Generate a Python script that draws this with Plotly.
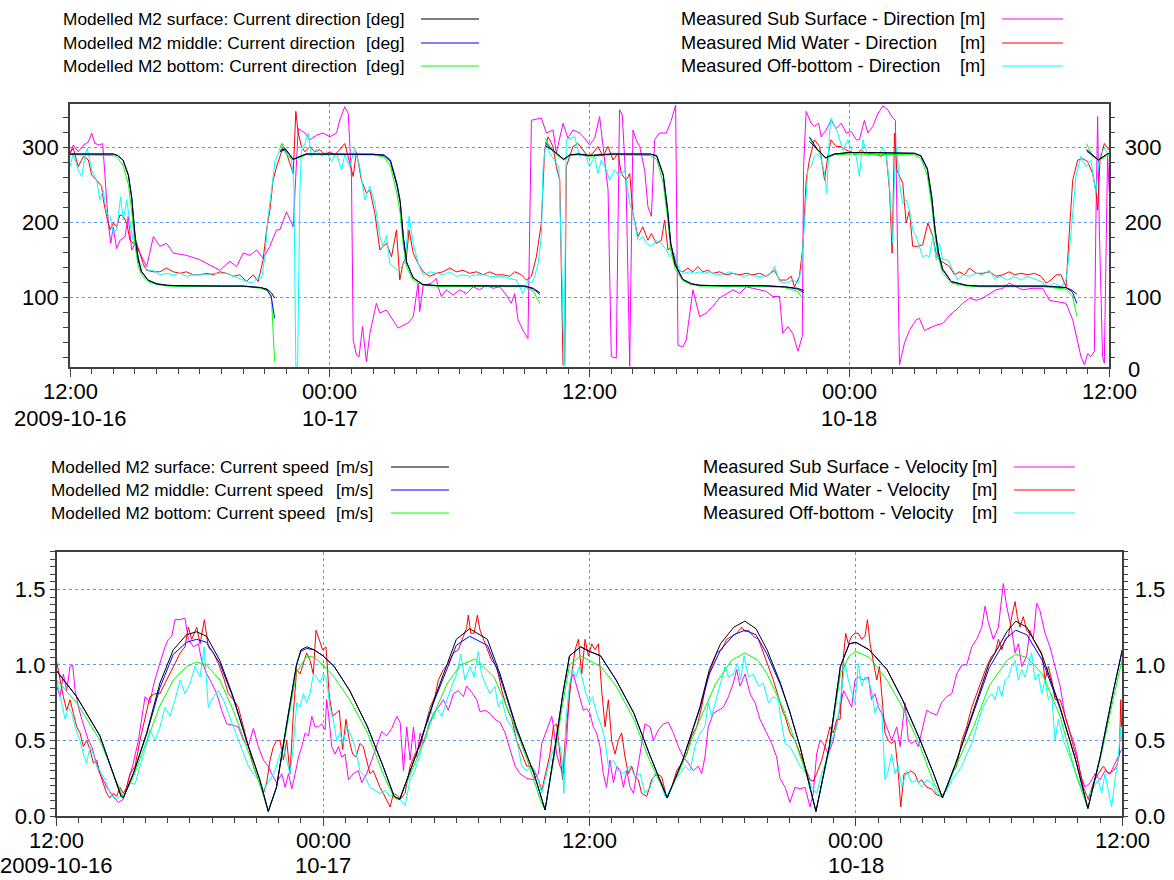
import pandas as pd
import plotly.graph_objects as go

T0 = pd.Timestamp("2009-10-16 12:00")

# ---------------- DATA (hours after 2009-10-16 12:00, value) ----------------
mod_dir_surface = [(0,291),(1,291),(2,291),(2.2,289),(2.45,283),(2.7,262),(2.85,232),(3.0,182),(3.15,150),(3.3,134),(3.6,123),(4.0,118),(4.5,116),(5,115.5),(6,115),(7,115),(8,115),(8.8,113),(9.1,111),(9.3,106),(9.45,99),(9.6,None),(9.7,296),(9.95,298),(10.3,284),(10.6,287),(10.9,291),(11.5,291),(12,291),(13,291),(14,291),(14.5,289),(14.8,281),(15.1,249),(15.25,226),(15.4,178),(15.55,146),(15.85,126),(16.3,117),(17,115.5),(18,115.5),(19,115.5),(20,115.5),(21,115),(21.4,112),(21.7,106),(21.85,None),(21.95,302),(22.3,296),(22.8,284),(23.1,290),(23.5,291),(24,289),(25,291),(26,291),(26.8,291),(27.1,288),(27.4,262),(27.6,215),(27.75,170),(27.95,143),(28.3,124),(28.7,118),(29.1,116),(30,115.5),(31,115.5),(32,115.5),(33,114),(33.6,112),(33.9,109),(34.05,None),(34.15,308),(34.5,298),(34.9,286),(35.3,291),(36,293),(37,293),(38,293),(39,292),(39.3,288),(39.6,270),(39.8,232),(39.95,190),(40.1,160),(40.3,137),(40.7,121),(41.4,116),(42,115),(43,115),(44,115),(45,115),(46,113),(46.3,109),(46.5,104),(46.7,None),(46.95,297),(47.2,290),(47.5,283),(47.9,291),(48,292)]
mod_dir_middle = [(0,291),(1,291),(2,291),(2.2,289),(2.45,283),(2.7,263),(2.85,234),(3.0,185),(3.15,152),(3.3,135),(3.6,123),(4.0,118),(4.5,116),(5,115.5),(6,115),(7,115),(8,115),(8.8,113),(9.1,110),(9.3,100),(9.45,72),(9.6,None),(9.7,294),(9.95,297),(10.3,284),(10.6,287),(10.9,291),(11.5,291),(12,291),(13,291),(14,291),(14.5,290),(14.8,283),(15.1,252),(15.25,229),(15.4,180),(15.55,147),(15.85,126),(16.3,117),(17,115.5),(18,115.5),(19,115.5),(20,115.5),(21,115),(21.4,111),(21.7,104),(21.85,None),(21.95,306),(22.3,296),(22.8,284),(23.1,290),(23.5,291),(24,289),(25,291),(26,291),(26.8,291),(27.1,289),(27.4,264),(27.6,218),(27.75,172),(27.95,144),(28.3,124),(28.7,118),(29.1,116),(30,115.5),(31,115.5),(32,115.5),(33,114),(33.6,111),(33.9,106),(34.05,None),(34.15,314),(34.5,298),(34.9,286),(35.3,291),(36,293),(37,293),(38,293),(39,292),(39.3,289),(39.6,272),(39.8,235),(39.95,192),(40.1,162),(40.3,138),(40.7,121),(41.4,116),(42,115),(43,115),(44,115),(45,115),(46,113),(46.3,107),(46.5,92),(46.7,None),(46.95,295),(47.2,290),(47.5,283),(47.9,291),(48,292)]
mod_dir_bottom = [(0,290),(1,290),(2,289),(2.2,286),(2.45,276),(2.7,250),(2.85,215),(3.0,170),(3.15,142),(3.3,130),(3.6,121),(4.0,117),(4.5,115),(5,114.5),(6,114.5),(7,114.5),(8,114.5),(8.8,112),(9.1,109),(9.3,103),(9.45,14),(9.6,None),(9.7,300),(9.8,305),(9.95,292),(10.3,283),(10.6,286),(10.9,290),(11.5,290),(12,290),(13,290),(14,290),(14.5,287),(14.8,275),(15.1,238),(15.25,212),(15.4,168),(15.55,140),(15.85,123),(16.3,116),(17,114.5),(18,114.5),(19,114.5),(20,114.5),(21,114),(21.4,108),(21.7,92),(21.85,None),(21.95,312),(22.3,294),(22.8,283),(23.1,289),(23.5,290),(24,288),(25,290),(26,290),(26.8,289),(27.1,284),(27.4,252),(27.6,205),(27.75,162),(27.95,138),(28.3,122),(28.7,117),(29.1,115),(30,114.5),(31,114.5),(32,114.5),(33,113),(33.6,108),(33.9,96),(34.05,None),(34.15,312),(34.5,296),(34.9,285),(35.3,290),(36,291),(37,291),(38,291),(39,290),(39.3,285),(39.6,262),(39.8,222),(39.95,182),(40.1,154),(40.3,133),(40.7,119),(41.4,115),(42,114),(43,114),(44,114),(45,114),(46,111),(46.3,102),(46.5,75),(46.7,None),(46.95,305),(47.2,289),(47.5,282),(47.9,290),(48,291)]

sub_dir = [(0,292),(0.15,303),(0.38,294),(0.62,303),(0.85,307),(1.0,319),(1.15,305),(1.38,303),(1.51,305),(1.62,256),(1.77,199),(1.88,172),(2.0,194),(2.15,165),(2.31,176),(2.54,181),(2.69,208),(2.85,163),(3.0,172),(3.23,159),(3.54,141),(3.85,181),(4.15,168),(4.46,172),(4.77,159),(5.38,156),(6.0,150),(6.46,143),(6.92,136),(7.38,148),(7.69,141),(8.0,159),(8.31,156),(8.62,163),(8.92,152),(9.23,168),(9.54,190),(9.69,190),(10.0,214),(10.31,194),(10.54,325),(10.85,319),(11.08,310),(11.38,316),(11.69,319),(12.0,314),(12.31,319),(12.46,336),(12.69,354),(12.85,345),(13.0,261),(13.08,43),(13.23,23),(13.35,21),(13.51,61),(13.69,14),(13.85,52),(14.15,92),(14.31,79),(14.62,83),(14.92,70),(15.15,59),(15.62,66),(15.85,74),(16.08,119),(16.15,81),(16.31,115),(16.69,119),(16.92,125),(17.0,114),(17.15,101),(17.38,110),(17.69,103),(18.0,110),(18.31,105),(18.62,114),(18.92,110),(19.23,116),(19.54,112),(19.85,114),(20.15,103),(20.38,92),(20.54,105),(20.69,70),(20.92,56),(21.15,45),(21.31,336),(21.77,339),(22.0,319),(22.31,323),(22.46,292),(22.77,332),(23.0,312),(23.23,323),(23.54,319),(23.77,312),(24.0,303),(24.23,312),(24.46,341),(24.65,296),(24.85,243),(25.0,21),(25.23,19),(25.38,350),(25.51,343),(25.69,243),(25.85,8),(26.0,323),(26.15,310),(26.31,301),(26.54,270),(26.69,221),(26.85,208),(27.0,310),(27.23,319),(27.54,319),(27.77,336),(27.97,356),(28.08,36),(28.31,34),(28.46,43),(28.77,110),(29.08,74),(29.38,79),(29.69,88),(30.0,99),(30.31,105),(30.62,110),(30.92,105),(31.23,114),(31.54,112),(31.85,110),(32.15,108),(32.46,101),(32.77,101),(32.92,52),(33.15,61),(33.38,52),(33.62,28),(33.82,48),(33.88,274),(34.0,348),(34.23,332),(34.38,328),(34.58,332),(34.69,314),(34.92,323),(35.15,336),(35.38,325),(35.62,332),(35.85,319),(36.08,321),(36.31,310),(36.46,310),(36.69,336),(36.85,319),(37.08,328),(37.31,345),(37.54,355),(37.77,350),(38.0,339),(38.12,336),(38.31,10),(38.54,39),(38.77,56),(39.08,70),(39.23,72),(39.46,56),(39.69,59),(40.0,63),(40.31,65),(40.62,76),(40.92,83),(41.23,92),(41.54,99),(41.85,96),(42.15,99),(42.46,105),(42.77,110),(43.08,112),(43.38,119),(43.69,114),(44.0,110),(44.46,112),(44.92,112),(45.23,96),(45.69,94),(46.0,92),(46.31,70),(46.54,39),(46.69,21),(46.85,10),(47.0,25),(47.15,21),(47.31,28),(47.38,199),(47.46,341),(47.54,190),(47.69,21),(47.77,12),(47.92,288),(48.0,240)]
mid_dir = [(0,292),(0.15,299),(0.38,274),(0.62,288),(0.85,283),(1.0,263),(1.23,256),(1.46,248),(1.54,230),(1.69,208),(1.85,190),(2.0,199),(2.15,194),(2.31,210),(2.46,208),(2.62,199),(2.77,176),(2.92,172),(3.08,172),(3.23,159),(3.38,145),(3.54,136),(3.85,134),(4.15,134),(4.46,139),(4.77,134),(5.08,132),(5.38,134),(5.69,130),(6.0,130),(6.31,132),(6.62,130),(6.92,134),(7.23,132),(7.54,128),(7.85,130),(8.15,121),(8.46,130),(8.69,121),(8.92,150),(9.08,190),(9.23,216),(9.38,256),(9.54,274),(9.69,288),(9.85,301),(10.0,292),(10.15,279),(10.31,265),(10.43,348),(10.54,319),(10.69,301),(10.85,294),(11.08,301),(11.31,294),(11.54,297),(11.77,290),(12.0,294),(12.23,290),(12.46,297),(12.69,305),(12.92,279),(13.08,261),(13.23,294),(13.46,256),(13.69,239),(13.85,243),(14.08,212),(14.31,163),(14.46,168),(14.62,172),(14.85,154),(15.08,190),(15.23,123),(15.38,145),(15.54,154),(15.66,190),(15.85,159),(16.08,145),(16.31,134),(16.62,128),(16.92,132),(17.23,134),(17.54,139),(17.85,134),(18.15,136),(18.46,132),(18.77,134),(19.08,130),(19.38,134),(19.69,130),(20.0,130),(20.31,128),(20.54,134),(20.85,130),(21.08,123),(21.31,128),(21.54,154),(21.77,199),(21.92,296),(22.08,314),(22.31,301),(22.46,274),(22.62,256),(22.77,10),(22.85,12),(22.92,274),(23.08,288),(23.23,301),(23.46,305),(23.69,296),(23.92,288),(24.15,292),(24.38,301),(24.62,288),(24.85,301),(25.08,283),(25.31,292),(25.46,265),(25.69,256),(25.85,265),(26.0,212),(26.23,181),(26.46,194),(26.69,176),(26.85,185),(27.08,172),(27.31,176),(27.46,203),(27.62,163),(27.77,168),(27.92,154),(28.08,136),(28.31,134),(28.54,139),(28.77,134),(29.0,141),(29.23,134),(29.46,136),(29.69,132),(30.0,134),(30.31,130),(30.62,132),(30.92,130),(31.23,132),(31.54,130),(31.85,132),(32.15,128),(32.54,136),(32.77,123),(33.08,123),(33.31,128),(33.46,114),(33.69,128),(33.85,168),(34.0,256),(34.15,283),(34.38,310),(34.62,301),(34.85,256),(35.0,288),(35.15,310),(35.38,301),(35.62,301),(35.85,296),(36.08,294),(36.31,290),(36.54,297),(36.77,290),(37.0,292),(37.23,290),(37.46,288),(37.69,292),(37.85,243),(37.97,159),(38.08,319),(38.18,270),(38.31,261),(38.46,252),(38.62,199),(38.77,216),(38.92,168),(39.15,168),(39.38,170),(39.62,199),(39.85,181),(40.0,159),(40.15,150),(40.38,145),(40.62,141),(40.85,130),(41.08,134),(41.31,130),(41.54,139),(41.85,132),(42.15,132),(42.46,134),(42.77,128),(43.08,130),(43.38,134),(43.62,130),(43.92,132),(44.23,130),(44.54,132),(44.85,128),(45.08,119),(45.31,123),(45.54,130),(45.77,130),(46.0,114),(46.15,185),(46.31,256),(46.54,283),(46.77,285),(47.0,281),(47.23,265),(47.38,243),(47.46,216),(47.57,283),(47.77,305),(48.0,296)]
off_dir = [(0,274),(0.15,292),(0.38,270),(0.54,261),(0.69,288),(0.8,299),(1.0,270),(1.23,256),(1.38,230),(1.54,243),(1.69,212),(1.85,208),(2.0,185),(2.15,190),(2.34,234),(2.46,203),(2.62,230),(2.77,199),(2.92,176),(3.08,163),(3.23,145),(3.38,141),(3.62,136),(3.85,136),(4.15,130),(4.46,132),(4.77,130),(5.08,132),(5.38,128),(5.69,130),(6.0,130),(6.31,130),(6.62,132),(6.92,132),(7.23,132),(7.54,128),(7.85,125),(8.15,121),(8.46,119),(8.69,128),(8.85,125),(9.0,154),(9.15,208),(9.31,243),(9.46,281),(9.62,292),(9.77,305),(9.92,299),(10.08,288),(10.23,283),(10.34,252),(10.43,8),(10.51,8),(10.62,243),(10.69,296),(10.85,305),(11.0,319),(11.15,288),(11.38,297),(11.62,288),(11.85,294),(12.08,281),(12.31,292),(12.54,270),(12.69,290),(12.92,274),(13.15,299),(13.38,274),(13.62,230),(13.85,248),(14.08,225),(14.31,181),(14.46,168),(14.62,183),(14.77,145),(14.92,141),(15.15,136),(15.46,145),(15.66,208),(15.85,172),(16.08,145),(16.31,130),(16.62,134),(16.92,132),(17.23,130),(17.54,134),(17.85,128),(18.15,130),(18.46,128),(18.77,130),(19.08,130),(19.38,128),(19.69,128),(20.0,128),(20.31,125),(20.62,123),(20.92,105),(21.15,123),(21.31,119),(21.46,128),(21.62,145),(21.77,181),(21.85,274),(22.0,310),(22.15,292),(22.38,283),(22.58,274),(22.74,110),(22.82,8),(22.92,310),(23.08,312),(23.31,314),(23.54,288),(23.77,292),(24.0,274),(24.23,288),(24.38,265),(24.54,283),(24.77,270),(24.92,256),(25.15,270),(25.38,261),(25.62,270),(25.85,225),(26.0,212),(26.23,176),(26.46,181),(26.62,172),(26.85,168),(27.08,176),(27.31,172),(27.54,163),(27.69,154),(27.92,159),(28.15,136),(28.38,132),(28.62,134),(28.85,132),(29.08,134),(29.31,132),(29.54,134),(29.85,130),(30.15,130),(30.46,134),(30.77,130),(31.08,128),(31.38,130),(31.69,128),(32.0,128),(32.31,130),(32.54,141),(32.77,121),(33.08,119),(33.38,123),(33.62,119),(33.77,136),(33.92,199),(34.08,270),(34.23,274),(34.38,288),(34.62,292),(34.85,265),(34.95,239),(35.08,319),(35.15,339),(35.31,328),(35.46,319),(35.69,296),(35.92,310),(36.15,292),(36.31,288),(36.46,261),(36.62,310),(36.85,288),(37.08,292),(37.31,288),(37.54,299),(37.69,292),(37.85,248),(38.0,172),(38.08,265),(38.18,301),(38.31,252),(38.46,225),(38.62,230),(38.77,216),(38.92,190),(39.08,181),(39.23,168),(39.38,154),(39.54,156),(39.69,154),(39.85,181),(40.0,150),(40.15,172),(40.31,150),(40.54,150),(40.77,136),(41.0,123),(41.23,130),(41.54,128),(41.85,132),(42.15,130),(42.46,136),(42.69,125),(43.0,128),(43.31,123),(43.62,128),(43.92,123),(44.23,128),(44.54,125),(44.85,121),(45.15,114),(45.46,119),(45.77,114),(46.0,123),(46.15,159),(46.31,208),(46.46,261),(46.69,288),(46.92,274),(47.15,283),(47.38,239),(47.54,288),(47.77,299),(48.0,288)]

mod_spd_surface = [(0,0.96),(0.9,0.79),(1.95,0.53),(2.55,0.28),(2.9,0.13),(3.0,0.12),(3.45,0.28),(4.05,0.55),(4.65,0.88),(5.25,1.10),(5.85,1.20),(6.3,1.22),(6.75,1.19),(7.35,1.03),(7.95,0.79),(8.55,0.50),(9.15,0.24),(9.53,0.03),(9.9,0.19),(10.36,0.61),(10.8,1.0),(11.0,1.10),(11.26,1.12),(11.6,1.10),(12.0,1.06),(12.5,0.99),(13.2,0.83),(14.0,0.59),(14.7,0.33),(15.2,0.13),(15.45,0.11),(16.2,0.41),(17.0,0.77),(17.6,1.01),(18.0,1.17),(18.6,1.24),(19.4,1.17),(19.97,0.94),(20.7,0.59),(21.5,0.28),(22.0,0.04),(22.4,0.41),(22.8,0.81),(23.1,1.06),(23.6,1.12),(24.0,1.09),(24.5,1.06),(25.2,0.90),(26.0,0.68),(26.7,0.41),(27.5,0.12),(28.2,0.37),(28.97,0.72),(29.4,0.97),(29.9,1.14),(30.5,1.25),(31.0,1.29),(31.5,1.24),(32.0,1.10),(32.6,0.88),(33.0,0.70),(33.5,0.45),(33.9,0.22),(34.2,0.03),(34.8,0.46),(35.3,0.99),(35.7,1.14),(36.0,1.15),(36.6,1.10),(37.4,0.97),(38.1,0.77),(38.9,0.50),(39.5,0.28),(39.9,0.12),(40.5,0.35),(41.3,0.70),(42.0,1.01),(42.8,1.22),(43.2,1.29),(43.7,1.25),(44.4,1.06),(45.2,0.72),(45.9,0.37),(46.45,0.05),(47.0,0.39),(47.6,0.83),(48.0,1.10)]
mod_spd_middle = [(0,0.96),(0.9,0.79),(1.95,0.53),(2.55,0.28),(2.9,0.13),(3.0,0.12),(3.45,0.28),(4.05,0.54),(4.65,0.85),(5.25,1.07),(5.85,1.15),(6.3,1.17),(6.75,1.15),(7.35,1.01),(7.95,0.78),(8.55,0.50),(9.15,0.24),(9.53,0.03),(9.9,0.19),(10.36,0.61),(10.8,1.0),(11.0,1.09),(11.26,1.11),(11.6,1.10),(12.0,1.06),(12.5,0.99),(13.2,0.83),(14.0,0.59),(14.7,0.33),(15.2,0.13),(15.45,0.11),(16.2,0.41),(17.0,0.76),(17.6,0.98),(18.0,1.13),(18.6,1.19),(19.4,1.13),(19.97,0.92),(20.7,0.58),(21.5,0.28),(22.0,0.04),(22.4,0.41),(22.8,0.81),(23.1,1.06),(23.6,1.12),(24.0,1.09),(24.5,1.06),(25.2,0.90),(26.0,0.68),(26.7,0.41),(27.5,0.12),(28.2,0.37),(28.97,0.71),(29.4,0.94),(29.9,1.10),(30.5,1.20),(31.0,1.23),(31.5,1.20),(32.0,1.07),(32.6,0.87),(33.0,0.70),(33.5,0.45),(33.9,0.22),(34.2,0.03),(34.8,0.46),(35.3,0.99),(35.7,1.14),(36.0,1.15),(36.6,1.10),(37.4,0.97),(38.1,0.77),(38.9,0.50),(39.5,0.28),(39.9,0.12),(40.5,0.35),(41.3,0.69),(42.0,0.98),(42.8,1.18),(43.2,1.23),(43.7,1.20),(44.4,1.03),(45.2,0.71),(45.9,0.37),(46.45,0.05),(47.0,0.39),(47.6,0.83),(48.0,1.10)]
mod_spd_bottom = [(0,0.90),(0.9,0.75),(1.95,0.50),(2.55,0.28),(3.0,0.12),(3.45,0.26),(4.05,0.50),(4.65,0.73),(5.25,0.90),(5.85,0.99),(6.3,1.02),(6.75,1.00),(7.35,0.90),(7.95,0.70),(8.55,0.46),(9.15,0.21),(9.53,0.03),(9.9,0.19),(10.36,0.58),(10.8,0.95),(11.26,1.06),(11.6,1.05),(12.0,1.00),(12.5,0.92),(13.2,0.77),(14.0,0.55),(14.7,0.28),(15.2,0.12),(15.45,0.11),(16.2,0.37),(17.0,0.68),(17.6,0.88),(18.2,1.00),(18.85,1.04),(19.7,0.92),(20.4,0.68),(21.2,0.37),(21.8,0.10),(22.0,0.04),(22.4,0.38),(22.8,0.75),(23.1,1.00),(23.6,1.06),(24.0,1.03),(24.5,0.99),(25.2,0.86),(26.0,0.64),(26.7,0.37),(27.5,0.12),(28.2,0.35),(28.97,0.64),(29.7,0.88),(30.4,1.03),(31.0,1.08),(31.6,1.03),(32.0,0.94),(32.7,0.72),(33.3,0.48),(33.8,0.26),(34.2,0.03),(34.8,0.44),(35.3,0.94),(35.7,1.06),(36.0,1.09),(36.6,1.05),(37.4,0.90),(38.1,0.72),(38.9,0.46),(39.5,0.22),(39.9,0.12),(40.5,0.33),(41.3,0.59),(42.0,0.86),(42.8,1.03),(43.2,1.07),(43.7,1.05),(44.4,0.94),(45.2,0.66),(45.9,0.28),(46.45,0.05),(47.0,0.37),(47.6,0.78),(48.0,1.04)]

sub_spd = [(0,0.86),(0.15,0.79),(0.3,0.94),(0.45,0.83),(0.6,0.99),(0.72,1.0),(0.83,0.83),(0.98,0.72),(1.13,0.64),(1.28,0.57),(1.43,0.50),(1.58,0.46),(1.73,0.37),(1.88,0.30),(2.03,0.26),(2.25,0.19),(2.55,0.13),(2.78,0.09),(3.0,0.11),(3.23,0.24),(3.45,0.35),(3.68,0.50),(3.83,0.64),(3.98,0.79),(4.2,0.75),(4.35,0.86),(4.5,0.94),(4.65,1.01),(4.88,1.12),(5.03,1.17),(5.18,1.19),(5.33,1.30),(5.56,1.30),(5.78,1.31),(5.93,1.17),(6.16,1.12),(6.38,1.14),(6.53,1.03),(6.76,0.94),(6.98,0.88),(7.21,0.81),(7.43,0.70),(7.66,0.61),(7.96,0.60),(8.18,0.59),(8.41,0.50),(8.63,0.46),(8.86,0.58),(9.08,0.46),(9.31,0.37),(9.53,0.33),(9.68,0.28),(9.91,0.22),(10.14,0.28),(10.29,0.19),(10.44,0.28),(10.59,0.18),(10.74,0.28),(10.89,0.39),(11.04,0.46),(11.19,0.55),(11.34,0.53),(11.49,0.66),(11.64,0.59),(11.79,0.59),(11.94,0.61),(12.09,0.57),(12.16,0.77),(12.24,0.68),(12.39,0.46),(12.54,0.41),(12.69,0.46),(12.84,0.39),(12.99,0.41),(13.14,0.24),(13.36,0.28),(13.59,0.30),(13.74,0.22),(13.96,0.28),(14.19,0.37),(14.41,0.46),(14.64,0.56),(14.86,0.53),(15.09,0.58),(15.32,0.66),(15.47,0.62),(15.62,0.30),(15.77,0.59),(15.92,0.37),(16.07,0.59),(16.22,0.39),(16.37,0.55),(16.52,0.48),(16.74,0.59),(16.97,0.68),(17.19,0.72),(17.42,0.77),(17.64,0.70),(17.87,0.81),(18.09,0.83),(18.32,0.79),(18.47,0.86),(18.69,0.82),(18.92,0.77),(19.07,0.69),(19.29,0.70),(19.52,0.68),(19.74,0.64),(19.97,0.62),(20.2,0.55),(20.42,0.44),(20.65,0.33),(20.87,0.28),(21.17,0.25),(21.47,0.24),(21.7,0.28),(21.85,0.48),(22.07,0.57),(22.3,0.66),(22.4,0.57),(22.52,0.41),(22.67,0.33),(22.82,0.28),(22.97,0.50),(23.12,0.88),(23.27,0.94),(23.42,0.86),(23.57,0.77),(23.72,0.70),(23.87,0.71),(24.02,0.68),(24.17,0.59),(24.32,0.55),(24.47,0.46),(24.62,0.28),(24.77,0.19),(24.92,0.37),(25.08,0.22),(25.23,0.33),(25.38,0.30),(25.53,0.19),(25.68,0.30),(25.83,0.19),(25.98,0.15),(26.13,0.28),(26.28,0.41),(26.5,0.61),(26.73,0.59),(26.88,0.50),(27.1,0.57),(27.33,0.61),(27.55,0.62),(27.78,0.55),(28.0,0.46),(28.23,0.39),(28.45,0.35),(28.68,0.30),(28.9,0.33),(29.05,0.28),(29.2,0.39),(29.35,0.59),(29.58,0.68),(29.8,0.70),(30.03,0.72),(30.26,0.79),(30.48,0.88),(30.63,0.97),(30.78,0.86),(31.01,0.94),(31.23,0.81),(31.46,0.75),(31.68,0.64),(31.98,0.55),(32.21,0.48),(32.43,0.39),(32.58,0.25),(32.81,0.19),(33.03,0.09),(33.26,0.19),(33.48,0.18),(33.71,0.19),(33.93,0.06),(34.08,0.15),(34.23,0.41),(34.38,0.50),(34.53,0.48),(34.76,0.41),(34.98,0.50),(35.14,0.61),(35.29,0.72),(35.44,0.83),(35.59,0.79),(35.81,0.72),(35.96,0.90),(36.11,0.92),(36.34,0.90),(36.56,0.92),(36.71,0.77),(36.86,0.81),(37.01,0.72),(37.16,0.68),(37.39,0.59),(37.61,0.50),(37.84,0.59),(37.99,0.46),(38.21,0.75),(38.36,0.50),(38.51,0.48),(38.66,0.50),(38.81,0.46),(38.96,0.55),(39.19,0.70),(39.41,0.68),(39.64,0.67),(39.86,0.75),(40.09,0.79),(40.32,0.81),(40.54,0.94),(40.77,1.0),(40.99,1.0),(41.22,1.12),(41.44,1.17),(41.67,1.25),(41.82,1.39),(41.97,1.28),(42.19,1.17),(42.42,1.25),(42.64,1.54),(42.79,1.39),(43.02,1.23),(43.17,1.08),(43.32,1.14),(43.47,0.99),(43.69,1.06),(43.84,1.23),(43.99,1.17),(44.14,1.41),(44.29,1.36),(44.52,1.21),(44.74,1.12),(44.97,0.99),(45.2,0.86),(45.42,0.66),(45.65,0.55),(45.8,0.50),(45.95,0.41),(46.1,0.28),(46.32,0.19),(46.55,0.22),(46.77,0.28),(47.0,0.24),(47.22,0.30),(47.45,0.28),(47.67,0.35),(47.82,0.39),(47.97,0.44)]
mid_spd = [(0,1.02),(0.15,0.90),(0.3,0.79),(0.45,0.70),(0.6,0.77),(0.75,0.68),(0.9,0.59),(1.05,0.55),(1.2,0.46),(1.35,0.50),(1.5,0.44),(1.65,0.35),(1.8,0.37),(1.95,0.28),(2.1,0.22),(2.25,0.15),(2.4,0.12),(2.55,0.15),(2.7,0.13),(2.85,0.19),(3.0,0.15),(3.15,0.19),(3.3,0.28),(3.53,0.33),(3.75,0.50),(3.98,0.66),(4.2,0.79),(4.43,0.81),(4.65,0.81),(4.88,0.88),(5.1,0.94),(5.33,1.01),(5.56,1.08),(5.78,1.12),(5.93,1.25),(6.08,1.17),(6.31,1.25),(6.46,1.14),(6.65,1.30),(6.83,1.12),(7.06,1.08),(7.28,1.01),(7.51,0.92),(7.73,0.81),(7.96,0.77),(8.18,0.72),(8.41,0.59),(8.63,0.46),(8.86,0.33),(9.08,0.24),(9.31,0.15),(9.46,0.22),(9.61,0.37),(9.76,0.46),(9.91,0.50),(10.06,0.50),(10.21,0.37),(10.36,0.50),(10.51,0.28),(10.66,0.68),(10.81,0.97),(10.96,0.94),(11.11,1.01),(11.26,1.08),(11.41,1.03),(11.56,0.94),(11.68,1.23),(11.83,1.17),(11.98,1.10),(12.13,1.12),(12.28,0.79),(12.43,0.66),(12.58,0.68),(12.73,0.70),(12.88,0.44),(13.03,0.64),(13.18,0.50),(13.33,0.41),(13.48,0.39),(13.66,0.48),(13.81,0.46),(13.96,0.37),(14.11,0.28),(14.26,0.30),(14.41,0.24),(14.56,0.19),(14.71,0.15),(14.86,0.11),(15.02,0.06),(15.17,0.15),(15.39,0.13),(15.47,0.11),(15.69,0.15),(15.92,0.33),(16.14,0.41),(16.37,0.46),(16.59,0.59),(16.82,0.72),(17.04,0.79),(17.19,0.90),(17.42,0.97),(17.64,1.01),(17.87,1.08),(18.09,1.10),(18.32,1.19),(18.47,1.25),(18.54,1.33),(18.65,1.21),(18.8,1.21),(18.95,1.33),(19.07,1.23),(19.22,1.17),(19.4,1.10),(19.59,1.03),(19.82,0.99),(20.05,0.83),(20.27,0.72),(20.5,0.64),(20.72,0.50),(20.95,0.41),(21.17,0.33),(21.4,0.33),(21.55,0.28),(21.7,0.24),(21.85,0.17),(22.0,0.26),(22.22,0.41),(22.37,0.59),(22.52,0.61),(22.67,0.41),(22.79,0.24),(22.9,0.50),(23.05,0.72),(23.2,0.94),(23.35,1.10),(23.5,1.17),(23.65,0.94),(23.8,1.17),(23.95,1.06),(24.1,1.14),(24.25,1.10),(24.4,1.14),(24.55,0.83),(24.7,0.59),(24.85,0.77),(25.0,0.50),(25.15,0.41),(25.3,0.50),(25.45,0.55),(25.6,0.39),(25.75,0.28),(25.9,0.33),(26.05,0.26),(26.2,0.24),(26.35,0.15),(26.58,0.13),(26.8,0.24),(27.03,0.28),(27.25,0.26),(27.48,0.12),(27.7,0.19),(27.93,0.30),(28.15,0.35),(28.38,0.41),(28.6,0.53),(28.83,0.59),(29.05,0.72),(29.28,0.90),(29.5,0.99),(29.73,1.08),(29.95,1.10),(30.18,1.17),(30.41,1.19),(30.63,1.21),(30.86,1.25),(31.01,1.22),(31.16,1.23),(31.38,1.19),(31.61,1.17),(31.83,1.08),(32.06,0.99),(32.28,0.90),(32.51,0.79),(32.73,0.68),(32.81,0.66),(33.03,0.55),(33.26,0.50),(33.48,0.41),(33.71,0.33),(33.93,0.24),(34.08,0.23),(34.23,0.28),(34.46,0.37),(34.68,0.50),(34.83,0.59),(34.98,0.55),(35.14,0.64),(35.29,0.64),(35.44,1.06),(35.54,1.21),(35.66,1.14),(35.81,1.19),(35.96,1.21),(36.11,1.21),(36.26,1.17),(36.41,1.19),(36.52,1.30),(36.64,1.14),(36.79,1.03),(36.94,0.90),(37.06,0.99),(37.16,0.79),(37.31,0.55),(37.46,0.50),(37.61,0.48),(37.76,0.50),(37.91,0.28),(38.02,0.06),(38.17,0.28),(38.32,0.28),(38.47,0.30),(38.66,0.28),(38.81,0.22),(38.96,0.24),(39.19,0.19),(39.41,0.18),(39.64,0.14),(39.86,0.13),(40.09,0.18),(40.32,0.28),(40.54,0.33),(40.77,0.50),(40.99,0.59),(41.22,0.72),(41.44,0.81),(41.67,0.90),(41.89,0.99),(42.12,1.06),(42.27,1.08),(42.42,1.17),(42.57,1.10),(42.72,1.17),(42.87,1.19),(43.02,1.32),(43.17,1.42),(43.27,1.32),(43.39,1.25),(43.54,1.32),(43.69,1.23),(43.92,1.19),(44.14,1.14),(44.37,1.08),(44.52,0.90),(44.67,0.99),(44.82,0.90),(44.97,0.77),(45.2,0.77),(45.35,0.70),(45.57,0.59),(45.8,0.46),(46.02,0.35),(46.25,0.19),(46.47,0.11),(46.7,0.22),(46.92,0.28),(47.15,0.33),(47.37,0.28),(47.6,0.30),(47.75,0.33),(47.87,0.41),(47.93,0.77),(47.97,0.59)]
off_spd = [(0,0.90),(0.15,0.79),(0.38,0.64),(0.53,0.72),(0.68,0.68),(0.83,0.59),(1.05,0.50),(1.2,0.41),(1.35,0.35),(1.5,0.46),(1.65,0.41),(1.8,0.33),(1.95,0.30),(2.18,0.24),(2.4,0.15),(2.63,0.11),(2.85,0.13),(3.08,0.15),(3.3,0.22),(3.53,0.21),(3.75,0.33),(3.98,0.44),(4.2,0.57),(4.43,0.50),(4.65,0.59),(4.88,0.72),(5.1,0.66),(5.33,0.77),(5.56,0.90),(5.78,0.81),(6.01,0.88),(6.23,0.99),(6.46,0.92),(6.64,1.12),(6.83,0.72),(7.06,0.79),(7.28,0.83),(7.51,0.77),(7.73,0.68),(7.96,0.59),(8.18,0.50),(8.41,0.41),(8.63,0.33),(8.86,0.28),(9.08,0.24),(9.31,0.17),(9.53,0.22),(9.68,0.26),(9.83,0.30),(10.06,0.41),(10.21,0.46),(10.36,0.37),(10.51,0.28),(10.66,0.46),(10.81,0.75),(10.96,0.72),(11.11,0.81),(11.26,0.75),(11.41,0.81),(11.56,0.94),(11.71,0.92),(11.86,0.88),(12.01,0.94),(12.16,0.90),(12.31,0.72),(12.46,0.64),(12.61,0.50),(12.76,0.55),(12.91,0.48),(13.06,0.59),(13.21,0.55),(13.44,0.46),(13.66,0.30),(13.89,0.26),(14.11,0.19),(14.34,0.17),(14.56,0.15),(14.79,0.17),(15.02,0.13),(15.24,0.15),(15.47,0.11),(15.69,0.07),(15.92,0.24),(16.14,0.30),(16.37,0.41),(16.52,0.50),(16.67,0.53),(16.82,0.72),(16.97,0.64),(17.12,0.72),(17.34,0.66),(17.57,0.77),(17.79,0.86),(18.02,0.94),(18.2,1.07),(18.39,0.90),(18.62,0.99),(18.8,0.92),(18.99,1.09),(19.14,0.94),(19.29,0.88),(19.52,0.81),(19.74,0.86),(19.89,0.72),(20.05,0.77),(20.27,0.64),(20.5,0.59),(20.72,0.50),(20.95,0.33),(21.17,0.30),(21.4,0.33),(21.62,0.28),(21.85,0.15),(22.07,0.28),(22.3,0.41),(22.45,0.46),(22.6,0.50),(22.75,0.41),(22.85,0.15),(22.94,0.64),(23.09,0.86),(23.24,0.97),(23.39,0.92),(23.54,0.99),(23.69,0.90),(23.84,0.81),(23.99,0.75),(24.14,0.79),(24.32,0.68),(24.55,0.59),(24.7,0.50),(24.85,0.33),(25.08,0.37),(25.3,0.30),(25.53,0.28),(25.83,0.33),(26.05,0.26),(26.28,0.28),(26.5,0.15),(26.73,0.19),(26.95,0.28),(27.18,0.24),(27.4,0.13),(27.63,0.17),(27.85,0.24),(28.08,0.28),(28.3,0.33),(28.53,0.30),(28.75,0.46),(28.98,0.55),(29.2,0.59),(29.35,0.75),(29.5,0.66),(29.73,0.79),(29.95,0.90),(30.11,0.99),(30.26,0.92),(30.48,0.94),(30.66,1.01),(30.81,0.90),(30.96,1.06),(31.16,0.92),(31.38,0.94),(31.61,0.86),(31.83,0.88),(32.06,0.75),(32.28,0.79),(32.51,0.77),(32.6,0.66),(32.81,0.48),(33.03,0.46),(33.26,0.39),(33.48,0.33),(33.78,0.28),(34.01,0.19),(34.23,0.15),(34.46,0.28),(34.68,0.37),(34.91,0.50),(35.14,0.59),(35.36,0.86),(35.51,1.01),(35.66,0.90),(35.81,0.83),(35.96,0.75),(36.11,1.01),(36.26,0.86),(36.41,0.92),(36.56,0.90),(36.71,0.83),(36.86,0.68),(37.01,0.75),(37.16,0.72),(37.31,0.24),(37.46,0.30),(37.61,0.41),(37.76,0.28),(37.91,0.33),(38.06,0.19),(38.29,0.30),(38.51,0.22),(38.74,0.24),(38.96,0.19),(39.19,0.24),(39.41,0.22),(39.64,0.15),(39.86,0.13),(40.09,0.17),(40.32,0.24),(40.54,0.28),(40.77,0.33),(40.99,0.41),(41.22,0.48),(41.44,0.59),(41.67,0.70),(41.89,0.77),(42.12,0.81),(42.27,0.77),(42.42,0.86),(42.57,0.79),(42.72,0.90),(42.87,0.92),(43.02,0.99),(43.17,1.03),(43.32,0.90),(43.47,0.97),(43.62,0.92),(43.77,1.01),(43.92,1.08),(44.07,0.90),(44.22,0.94),(44.37,0.81),(44.52,0.90),(44.67,0.77),(44.82,0.81),(44.97,0.50),(45.12,0.64),(45.35,0.50),(45.57,0.41),(45.8,0.33),(46.02,0.24),(46.25,0.15),(46.47,0.13),(46.7,0.19),(46.92,0.24),(47.07,0.15),(47.22,0.28),(47.37,0.17),(47.52,0.06),(47.67,0.24),(47.82,0.39),(47.93,0.59),(47.97,0.50)]

top_legend_left = ["Modelled M2 surface: Current direction", "Modelled M2 middle: Current direction", "Modelled M2 bottom: Current direction"]
top_legend_right = ["Measured Sub Surface - Direction", "Measured Mid Water - Direction", "Measured Off-bottom - Direction"]
bot_legend_left = ["Modelled M2 surface: Current speed", "Modelled M2 middle: Current speed", "Modelled M2 bottom: Current speed"]
bot_legend_right = ["Measured Sub Surface - Velocity", "Measured Mid Water - Velocity", "Measured Off-bottom - Velocity"]

x_tick_hours = [0, 12, 24, 36, 48]
x_tick_time = ["12:00", "00:00", "12:00", "00:00", "12:00"]
x_tick_date = ["2009-10-16", "10-17", "", "10-18", ""]
dir_ticks = [100, 200, 300]
spd_ticks = [0.0, 0.5, 1.0, 1.5]
spd_tick_text = ["0.0", "0.5", "1.0", "1.5"]

# ---------------- STYLE ----------------
C_SURF, C_MID, C_BOT = "#000000", "#0000ff", "#00ff00"
C_SUB, C_MW, C_OFF = "#ff00ff", "#ff0000", "#00ffff"
FONT = "Liberation Sans, Arial, sans-serif"
W, H = 1174, 880
AX = "#404040"
GRID = "#5a9cf0"


def px(x):
    return x / W


def py(y):
    return 1 - y / H


def times(series):
    return [T0 + pd.Timedelta(hours=h) for h, _ in series]


def vals(series):
    return [v for _, v in series]


fig = go.Figure()

top_series = [(sub_dir, C_SUB), (mid_dir, C_MW), (off_dir, C_OFF),
              (mod_dir_bottom, C_BOT), (mod_dir_middle, C_MID), (mod_dir_surface, C_SURF)]
for s, c in top_series:
    fig.add_trace(go.Scatter(x=times(s), y=vals(s), mode="lines", line=dict(color=c, width=1),
                             xaxis="x", yaxis="y", showlegend=False, hoverinfo="skip"))

bot_series = [(sub_spd, C_SUB), (mid_spd, C_MW), (off_spd, C_OFF),
              (mod_spd_bottom, C_BOT), (mod_spd_middle, C_MID), (mod_spd_surface, C_SURF)]
for s, c in bot_series:
    fig.add_trace(go.Scatter(x=times(s), y=vals(s), mode="lines", line=dict(color=c, width=1),
                             xaxis="x2", yaxis="y2", showlegend=False, hoverinfo="skip"))

tickvals_x = [T0 + pd.Timedelta(hours=h) for h in x_tick_hours]
xrange_ = [T0, T0 + pd.Timedelta(hours=48)]

common_x = dict(type="date", range=xrange_, tickmode="array", tickvals=tickvals_x, showticklabels=False,
                ticks="outside", ticklen=8, tickwidth=1, tickcolor=AX,
                showline=True, linecolor=AX, linewidth=1.7, mirror=True,
                showgrid=True, gridcolor=GRID, griddash="dot", gridwidth=1,
                minor=dict(dtick=3600000, tick0=T0, ticks="outside", ticklen=5, tickcolor=AX, showgrid=False),
                zeroline=False, fixedrange=True, automargin=False)

common_y = dict(ticks="outside", ticklen=5, tickwidth=1, tickcolor=AX,
                showline=True, linecolor=AX, linewidth=1.7, mirror=True,
                showgrid=True, gridcolor=GRID, griddash="dot", gridwidth=1,
                tickfont=dict(family=FONT, size=22, color="black"), zeroline=False, fixedrange=True,
                automargin=False)

right_y = dict(ticks="outside", ticklen=5, tickcolor=AX, showline=False, showgrid=False,
               tickfont=dict(family=FONT, size=22, color="black"), zeroline=False, fixedrange=True,
               automargin=False)

fig.update_layout(
    width=W, height=H, autosize=False,
    margin=dict(l=0, r=0, t=0, b=0, pad=0, autoexpand=False),
    paper_bgcolor="white", plot_bgcolor="white",
    xaxis=dict(domain=[px(70), px(1109.3)], anchor="y", **common_x),
    yaxis=dict(domain=[py(367.3), py(104)], anchor="x", range=[6.7, 357.7], tickmode="array",
               tickvals=dir_ticks, minor=dict(dtick=20, tick0=0, ticks="outside", ticklen=5, tickcolor=AX, showgrid=False),
               **common_y),
    yaxis3=dict(overlaying="y", side="right", anchor="x", range=[6.7, 357.7], tickmode="array",
                tickvals=dir_ticks, ticklabelstandoff=5,
                minor=dict(dtick=20, tick0=0, ticks="outside", ticklen=5, tickcolor=AX, showgrid=False),
                **right_y),
    xaxis2=dict(domain=[px(56.7), px(1122.3)], anchor="y2", **common_x),
    yaxis2=dict(domain=[py(816), py(551.7)], anchor="x2", range=[0, 1.75], tickmode="array",
                tickvals=spd_ticks, ticktext=spd_tick_text,
                minor=dict(dtick=0.05, tick0=0, ticks="outside", ticklen=5, tickcolor=AX, showgrid=False),
                **common_y),
    yaxis4=dict(overlaying="y2", side="right", anchor="x2", range=[0, 1.75], tickmode="array",
                tickvals=spd_ticks, ticktext=spd_tick_text, ticklabelstandoff=2,
                minor=dict(dtick=0.05, tick0=0, ticks="outside", ticklen=5, tickcolor=AX, showgrid=False),
                **right_y),
)

# invisible helper traces so the right-hand axes are drawn
fig.add_trace(go.Scatter(x=[None], y=[None], xaxis="x", yaxis="y3", showlegend=False, hoverinfo="skip"))
fig.add_trace(go.Scatter(x=[None], y=[None], xaxis="x2", yaxis="y4", showlegend=False, hoverinfo="skip"))

annotations = []
shapes = []
TF = dict(family=FONT, size=22, color="black")

# x tick labels (two lines) placed as annotations for exact line spacing
for xref, y_time, y_date in (("x", 391.5, 418), ("x2", 840, 865.5)):
    for tv, t1, t2 in zip(tickvals_x, x_tick_time, x_tick_date):
        annotations.append(dict(text=t1, x=tv, y=py(y_time), xref=xref, yref="paper", xanchor="center",
                                yanchor="middle", showarrow=False, font=TF))
        if t2:
            annotations.append(dict(text=t2, x=tv, y=py(y_date), xref=xref, yref="paper", xanchor="center",
                                    yanchor="middle", showarrow=False, font=TF))


# ---------------- custom legends ----------------
def legend_block(labels, unit, colors, x_text, x_unit_right, x_line0, x_line1, ys, size):
    lf = dict(family=FONT, size=size, color="black")
    for lab, col, y in zip(labels, colors, ys):
        annotations.append(dict(text=lab, x=px(x_text), y=py(y), xref="paper", yref="paper",
                                xanchor="left", yanchor="middle", showarrow=False, font=lf))
        annotations.append(dict(text=unit, x=px(x_unit_right), y=py(y), xref="paper", yref="paper",
                                xanchor="right", yanchor="middle", showarrow=False, font=lf))
        shapes.append(dict(type="line", xref="paper", yref="paper", x0=px(x_line0), x1=px(x_line1),
                           y0=py(y), y1=py(y), line=dict(color=col, width=1)))


legend_block(top_legend_left, "[deg]", [C_SURF, C_MID, C_BOT], 61, 406, 421, 479, [19, 43, 66], 17.3)
legend_block(top_legend_right, "[m]", [C_SUB, C_MW, C_OFF], 679, 987, 1002, 1063, [19, 43, 66], 18.2)
legend_block(bot_legend_left, "[m/s]", [C_SURF, C_MID, C_BOT], 49, 375, 391, 449, [467, 490, 513], 17.2)
legend_block(bot_legend_right, "[m]", [C_SUB, C_MW, C_OFF], 701, 999, 1014, 1075, [467, 490, 513], 18.2)

# extra "0" label at the lower end of the right direction axis
annotations.append(dict(text="0", x=px(1126), y=py(370), xref="paper", yref="paper", xanchor="left",
                        yanchor="middle", showarrow=False, font=TF))

fig.update_layout(annotations=annotations, shapes=shapes)

fig.write_html("out.html", config={"displayModeBar": False},
               post_script="document.body.style.margin='0px';")
